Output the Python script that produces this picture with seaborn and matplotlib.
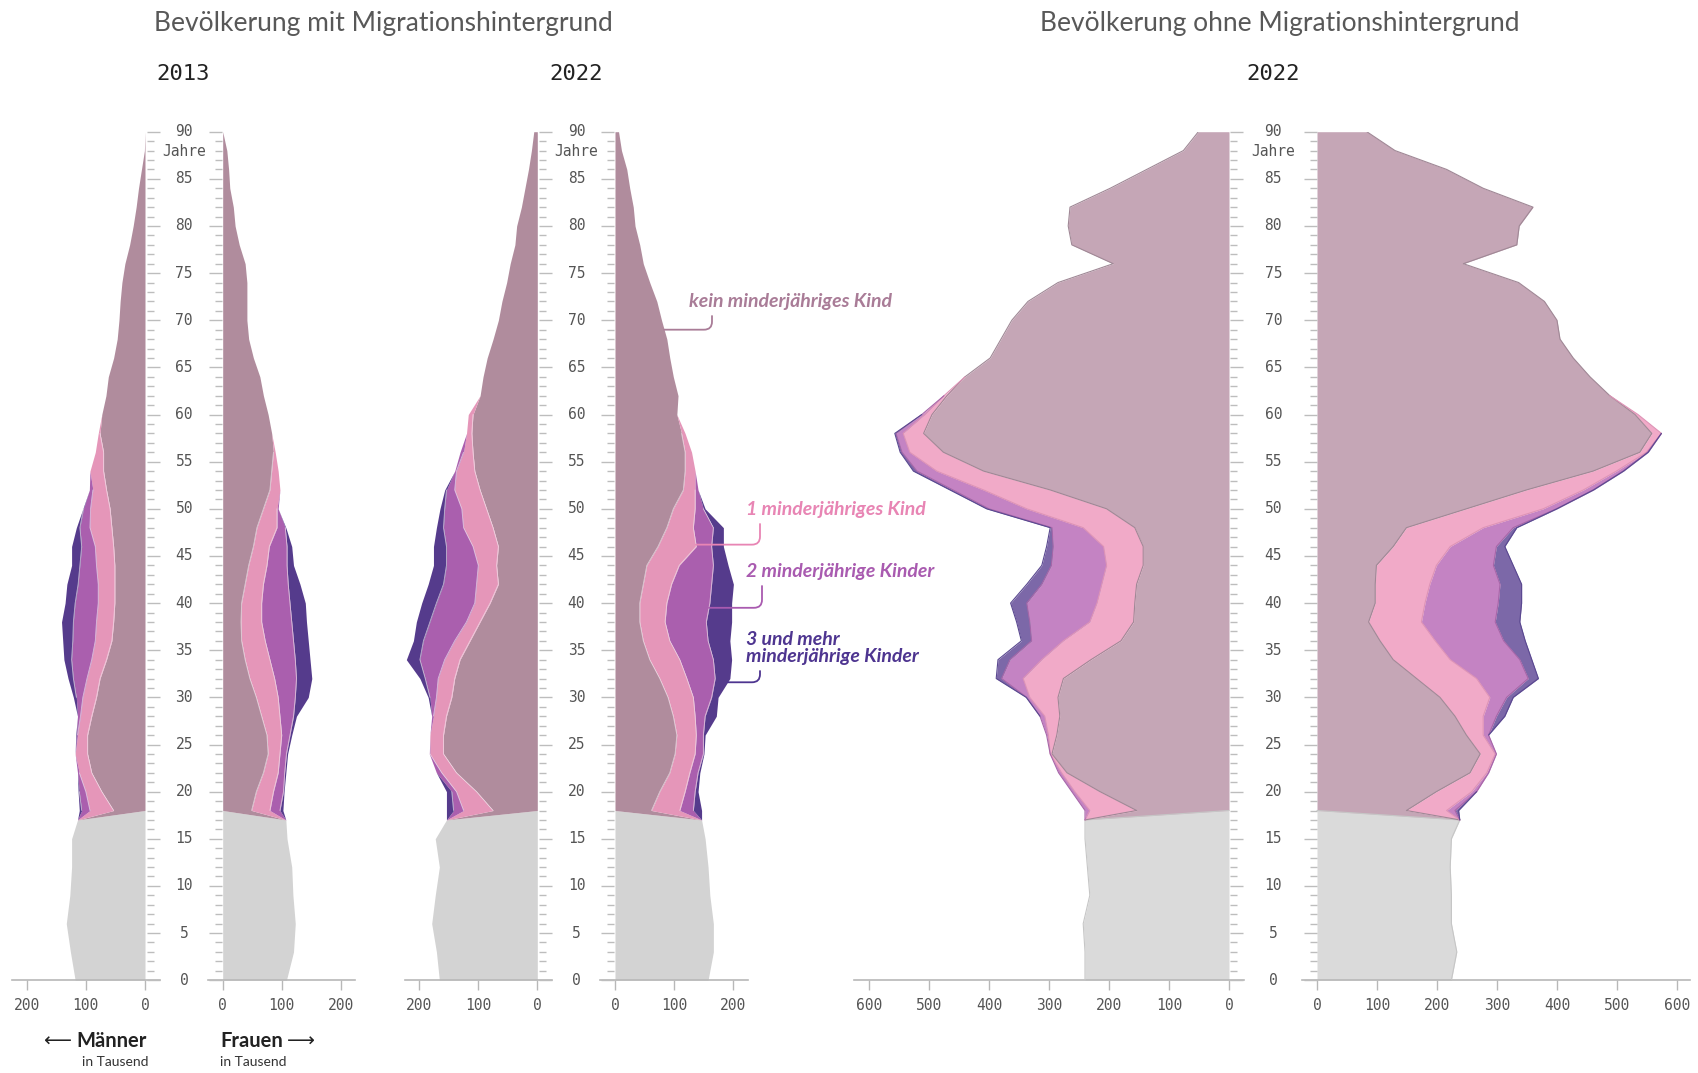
import numpy as np
import matplotlib
matplotlib.use("Agg")
import matplotlib.pyplot as plt
from matplotlib.ticker import MultipleLocator
import seaborn as sns

# ages: children part (grey) and adult part (stacked by number of minor children)
young_ages = [0, 3, 6, 9, 12, 15, 17]
adult_ages = list(range(18, 91, 2))

# values in thousands; adult lists start at age 18 (step 2), missing tail = 0
# --- with migration background, 2013 ---
m13_grey = [118, 126, 133, 127, 124, 124, 114]
m13_kein = [53, 73, 90, 97, 97, 90, 82, 76, 65, 56, 53, 51, 51, 51, 53, 56, 59, 65, 70, 70,
            76, 73, 66, 62, 53, 47, 44, 42, 39, 34, 26, 20, 15, 11, 6, 1, 0]
m13_one = [40, 27, 21, 21, 17, 19, 23, 22, 25, 28, 29, 28, 28, 31, 31, 37, 33, 23, 23, 14, 3]
m13_two = [14, 11, 3, 0, 2, 5, 11, 23, 34, 38, 39, 39, 34, 28, 23, 17, 12, 6]
m13_three = [4, 2, 0, 0, 1, 0, 5, 9, 13, 17, 20, 17, 19, 14, 17, 6, 1]

f13_grey = [108, 120, 123, 119, 117, 109, 107]
f13_kein = [49, 57, 69, 77, 75, 66, 57, 46, 38, 32, 31, 32, 38, 44, 52, 58, 69, 80, 83, 86,
            83, 77, 69, 63, 52, 44, 41, 41, 41, 38, 28, 21, 18, 12, 10, 7, 0]
f13_one = [31, 29, 25, 20, 25, 31, 37, 42, 42, 40, 35, 34, 31, 31, 27, 34, 23, 17, 11, 3]
f13_two = [17, 17, 11, 11, 14, 23, 29, 37, 43, 48, 51, 48, 42, 34, 30, 14, 2]
f13_three = [5, 1, 2, 2, 3, 5, 22, 26, 25, 25, 25, 26, 20, 11, 8, 1]

# --- with migration background, 2022 ---
m22_grey = [166, 171, 179, 173, 166, 173, 154]
m22_kein = [75, 103, 137, 159, 159, 154, 145, 140, 131, 114, 97, 80, 66, 69, 66, 75, 86, 97, 106, 109,
            111, 109, 97, 92, 85, 75, 66, 60, 52, 46, 38, 35, 27, 21, 15, 10, 6]
m22_one = [50, 34, 25, 23, 23, 22, 26, 28, 26, 26, 23, 26, 37, 31, 43, 50, 42, 43, 31, 16, 9, 8]
m22_two = [17, 8, 9, 1, 0, 3, 11, 22, 42, 53, 62, 65, 56, 54, 45, 34, 29, 14, 3, 6]
m22_three = [12, 9, 0, 0, 0, 0, 3, 9, 23, 17, 23, 25, 26, 22, 22, 12, 8, 3]

f22_grey = [158, 167, 167, 161, 158, 153, 147]
f22_kein = [62, 76, 93, 102, 105, 99, 90, 76, 59, 48, 42, 42, 48, 54, 73, 88, 99, 116, 119, 119,
            113, 105, 107, 99, 93, 88, 79, 71, 59, 48, 42, 34, 31, 25, 20, 11, 6]
f22_one = [48, 43, 34, 34, 33, 37, 43, 46, 51, 45, 43, 46, 48, 55, 65, 45, 37, 20, 17, 11, 6]
f22_two = [23, 17, 14, 14, 12, 17, 31, 48, 57, 65, 70, 73, 68, 58, 26, 34, 14, 5]
f22_three = [14, 5, 3, 1, 3, 19, 11, 25, 31, 37, 43, 37, 37, 25, 20, 17, 3]

# --- without migration background, 2022 ---
m22o_grey = [240, 240, 243, 232, 236, 240, 240]
m22o_kein = [154, 215, 270, 295, 287, 282, 285, 276, 230, 180, 159, 157, 154, 143, 143, 157, 204, 298, 409, 476,
             509, 495, 470, 440, 398, 380, 362, 335, 285, 193, 262, 268, 265, 198, 137, 76, 51]
m22o_one = [78, 42, 9, 3, 14, 25, 47, 67, 82, 96, 73, 63, 58, 61, 66, 86, 133, 111, 78, 56, 34, 12, 5]
m22o_two = [8, 5, 5, 0, 3, 8, 5, 36, 53, 53, 100, 117, 100, 92, 84, 52, 63, 51, 33, 13, 12, 5]
m22o_three = [0, 0, 0, 0, 0, 0, 1, 9, 20, 17, 22, 27, 25, 16, 11, 3, 4, 5, 6, 3, 2]

f22o_grey = [224, 233, 224, 224, 222, 224, 238]
f22o_kein = [149, 199, 255, 272, 249, 230, 205, 166, 127, 105, 86, 97, 97, 99, 127, 149, 249, 349, 460, 538,
             558, 530, 488, 455, 427, 405, 400, 379, 336, 244, 333, 337, 360, 277, 216, 130, 83]
f22o_one = [67, 59, 28, 25, 28, 47, 83, 100, 95, 92, 88, 83, 91, 100, 95, 128, 128, 95, 39, 11, 16, 5]
f22o_two = [14, 8, 3, 2, 9, 22, 28, 86, 116, 114, 123, 122, 117, 95, 77, 50, 22, 16, 11, 2]
f22o_three = [6, 0, 0, 0, 0, 14, 11, 17, 20, 36, 41, 39, 36, 33, 14, 6, 1, 1, 1, 1]

mig_ticks = [0, 100, 200]
ohne_ticks = [0, 100, 200, 300, 400, 500, 600]

sns.set_theme(style="white")
plt.rcParams["font.family"] = ["Lato", "DejaVu Sans"]
MONO = "DejaVu Sans Mono"

W, H = 1698, 1073
Y_TOP, Y_BOTTOM = 131.7, 980.2   # pixel rows of age 90 and age 0
AGES = np.array(young_ages + adult_ages, dtype=float)

MIG_COLORS = ["#d3d3d3", "#b08c9d", "#e596b9", "#aa5fae", "#553b8c"]
MIG_SEP = "#f3e6ee"
OHNE_COLORS = ["#dadada", "#c5a6b6", "#f1aac8", "#c483c3", "#7c68a8"]
OHNE_EDGES = ["#c6c6c6", "#a08896", "#de93b6", "#a766a8", "#5a4890"]

fig = plt.figure(figsize=(W / 100, H / 100), dpi=100)
fig.patch.set_facecolor("white")


def px_rect(x0, x1):
    return [x0 / W, (H - Y_BOTTOM) / H, (x1 - x0) / W, (Y_BOTTOM - Y_TOP) / H]


def pad(values):
    return list(values) + [0] * (len(adult_ages) - len(values))


def stacked(grey, kein, one, two, three):
    layers = [list(grey) + [0] * len(adult_ages)]
    for s in (kein, one, two, three):
        layers.append([0] * len(young_ages) + pad(s))
    return np.cumsum(np.array(layers, dtype=float), axis=0)


def draw_panel(zero, scale, side, outer, ticks, series, colors, edges=None):
    gap = 25
    if side == "left":
        x0, x1 = zero - outer * scale, zero + gap * scale
    else:
        x0, x1 = zero - gap * scale, zero + outer * scale
    ax = fig.add_axes(px_rect(x0, x1))
    cum = stacked(*series)
    lower = np.zeros_like(AGES)
    for i, color in enumerate(colors):
        ax.fill_betweenx(AGES, lower, cum[i], color=color, lw=0, zorder=2)
        lower = cum[i]
    thick = np.diff(np.vstack([np.zeros_like(AGES), cum]), axis=0)
    for i in range(len(colors)):
        nz = thick[i] > 0
        show = nz.copy()
        show[1:] |= nz[:-1]
        show[:-1] |= nz[1:]
        line = np.where(show, cum[i], np.nan)
        if edges is not None:
            ax.plot(line, AGES, color=edges[i], lw=0.8, zorder=3)
        elif 1 <= i < len(colors) - 1:
            # faint light seam between the stacked layers
            inner = np.where(thick[i + 1] > 0, line, np.nan)
            ax.plot(inner, AGES, color=MIG_SEP, lw=0.6, alpha=0.7, zorder=3)
    for s in ("left", "right", "top"):
        ax.spines[s].set_visible(False)
    ax.spines["bottom"].set_color("#b8b8b8")
    ax.spines["bottom"].set_linewidth(1.2)
    ax.set_xticks(ticks)
    ax.set_xticklabels([str(t) for t in ticks], family=MONO)
    ax.tick_params(axis="x", bottom=True, length=7, width=1, color="#b8b8b8",
                   pad=6, labelsize=10.5, labelcolor="#555555")
    ax.set_yticks([])
    ax.set_ylim(0, 90)
    ax.set_xlim((outer, -gap) if side == "left" else (-gap, outer))
    ax.set_facecolor("none")
    ax.grid(False)
    return ax, cum


def draw_age_axis(x_left, x_right):
    ax = fig.add_axes(px_rect(x_left, x_right))
    ax.set_xlim(0, 1)
    ax.set_ylim(0, 90)
    ax.patch.set_alpha(0)
    for s in ax.spines.values():
        s.set_visible(False)
    ax.set_xticks([])
    ax.yaxis.set_major_locator(MultipleLocator(5))
    ax.yaxis.set_minor_locator(MultipleLocator(1))
    ax.tick_params(axis="y", which="both", left=True, right=True, direction="in",
                   color="#bdbdbd", width=1, labelleft=False, labelright=False)
    ax.tick_params(axis="y", which="major", length=9.7)
    ax.tick_params(axis="y", which="minor", length=5)
    for a in range(0, 91, 5):
        ax.text(0.5, a, str(a), ha="center", va="center", family=MONO,
                fontsize=10.5, color="#555555")
    ax.text(0.5, 87.9, "Jahre", ha="center", va="center", family=MONO,
            fontsize=10.5, color="#555555")


# panels: (zero pixel, pixels per thousand)
draw_panel(145.0, 0.592, "left", 224, mig_ticks,
           (m13_grey, m13_kein, m13_one, m13_two, m13_three), MIG_COLORS)
draw_panel(222.7, 0.590, "right", 224, mig_ticks,
           (f13_grey, f13_kein, f13_one, f13_two, f13_three), MIG_COLORS)
draw_panel(537.3, 0.590, "left", 225, mig_ticks,
           (m22_grey, m22_kein, m22_one, m22_two, m22_three), MIG_COLORS)
ax4, cum4 = draw_panel(615.0, 0.589, "right", 225, mig_ticks,
                       (f22_grey, f22_kein, f22_one, f22_two, f22_three), MIG_COLORS)
draw_panel(1229.0, 0.600, "left", 625, ohne_ticks,
           (m22o_grey, m22o_kein, m22o_one, m22o_two, m22o_three), OHNE_COLORS, OHNE_EDGES)
draw_panel(1317.0, 0.600, "right", 622, ohne_ticks,
           (f22o_grey, f22o_kein, f22o_one, f22o_two, f22o_three), OHNE_COLORS, OHNE_EDGES)

draw_age_axis(146.7, 221.7)
draw_age_axis(539.0, 614.0)
draw_age_axis(1230.0, 1316.5)


def ftext(x, y, s, **kw):
    fig.text(x / W, 1 - y / H, s, **kw)


# titles
ftext(383, 24, "Bevölkerung mit Migrationshintergrund", ha="center", va="center",
      fontsize=19, color="#585858")
ftext(1280, 24, "Bevölkerung ohne Migrationshintergrund", ha="center", va="center",
      fontsize=19, color="#585858")
for x, year in [(183.3, "2013"), (576, "2022"), (1273, "2022")]:
    ftext(x, 74, year, ha="center", va="center", family=MONO, fontsize=16, color="#222222")

# sex labels
ftext(147, 1041, "Männer", ha="right", va="center", fontsize=14.5, fontweight="bold", color="#222222")
ftext(57, 1041, "⟵", ha="center", va="center", fontsize=14, family=["DejaVu Sans"], color="#222222")
ftext(148, 1062, "in Tausend", ha="right", va="center", fontsize=10, color="#333333")
ftext(220, 1041, "Frauen", ha="left", va="center", fontsize=14.5, fontweight="bold", color="#222222")
ftext(301, 1041, "⟶", ha="center", va="center", fontsize=14, family=["DejaVu Sans"], color="#222222")
ftext(220, 1062, "in Tausend", ha="left", va="center", fontsize=10, color="#333333")

# category labels with leader lines into the 2022 women panel
labels = [
    ("kein minderjähriges Kind", "#a97c97", (689, 302), (712, 316), 69.0, 1),
    ("1 minderjähriges Kind", "#e885b4", (746, 509), (760, 524), 46.2, 2),
    ("2 minderjährige Kinder", "#a95bb0", (746, 572), (762, 586), 39.5, 3),
    ("3 und mehr\nminderjährige Kinder", "#4e3590", (746, 648), (760, 671), 31.6, 4),
]
for text, color, pos, start, age, level in labels:
    ftext(pos[0], pos[1], text, ha="left", va="center", fontsize=14, fontweight="bold",
          fontstyle="italic", color=color, linespacing=1.0)
    x_target = np.interp(age, AGES, cum4[level])
    ax4.annotate("", xy=(x_target, age), xycoords="data",
                 xytext=(start[0], H - start[1]), textcoords="figure pixels",
                 arrowprops=dict(arrowstyle="-", color=color, lw=1.3, shrinkA=0, shrinkB=0,
                                 connectionstyle="angle,angleA=90,angleB=0,rad=8"),
                 annotation_clip=False)

fig.savefig("out.png", dpi=100, facecolor="white")
